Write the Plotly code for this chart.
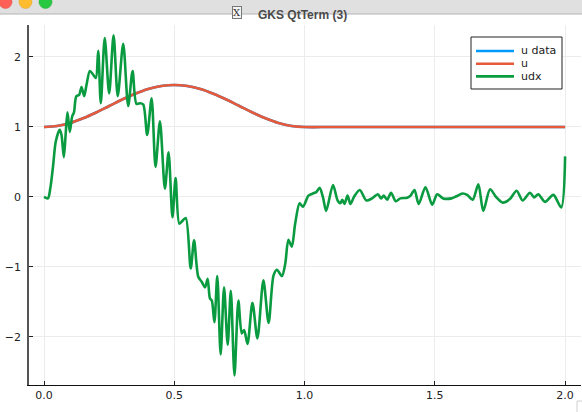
import plotly.graph_objects as go

# u and "u data" (they lie on top of each other)
u_x = [0.0, 0.05, 0.1, 0.15, 0.2, 0.25, 0.3, 0.35, 0.4, 0.45, 0.5,
       0.55, 0.6, 0.65, 0.7, 0.75, 0.8, 0.85, 0.9, 0.95, 1.0,
       1.1, 1.2, 1.3, 1.4, 1.5, 1.6, 1.7, 1.8, 1.9, 2.0]
u_data = [1.0, 1.015, 1.057, 1.124, 1.207, 1.3, 1.393, 1.476, 1.543, 1.585, 1.6,
          1.585, 1.543, 1.476, 1.393, 1.3, 1.207, 1.124, 1.057, 1.015, 1.0,
          1.0, 1.0, 1.0, 1.0, 1.0, 1.0, 1.0, 1.0, 1.0, 1.0]
u_pred = [1.0, 1.015, 1.057, 1.124, 1.207, 1.3, 1.393, 1.476, 1.543, 1.585, 1.6,
          1.585, 1.543, 1.476, 1.393, 1.3, 1.207, 1.124, 1.057, 1.015, 1.0,
          1.0, 1.0, 1.0, 1.0, 1.0, 1.0, 1.0, 1.0, 1.0, 1.0]

# udx
udx_x = [0.000, 0.015, 0.024, 0.035, 0.045, 0.060, 0.067, 0.076, 0.083, 0.090,
         0.099, 0.108, 0.115, 0.124, 0.135, 0.144, 0.154, 0.163, 0.176, 0.188,
         0.199, 0.208, 0.218, 0.233, 0.250, 0.267, 0.283, 0.304, 0.323, 0.340,
         0.355, 0.370, 0.381, 0.396, 0.413, 0.428, 0.445, 0.464, 0.478, 0.493,
         0.505, 0.519, 0.529, 0.544, 0.563, 0.576, 0.592, 0.605, 0.618, 0.628,
         0.637, 0.644, 0.654, 0.665, 0.678, 0.691, 0.705, 0.717, 0.731, 0.746,
         0.759, 0.768, 0.781, 0.800, 0.819, 0.842, 0.862, 0.881, 0.894, 0.913,
         0.926, 0.938, 0.951, 0.964, 0.981, 0.994, 1.015, 1.032, 1.045, 1.058,
         1.071, 1.083, 1.109, 1.127, 1.137, 1.145, 1.153, 1.165, 1.176, 1.191,
         1.212, 1.237, 1.259, 1.281, 1.294, 1.304, 1.317, 1.332, 1.350, 1.368,
         1.394, 1.407, 1.422, 1.438, 1.464, 1.490, 1.509, 1.532, 1.564, 1.583,
         1.606, 1.624, 1.645, 1.667, 1.686, 1.712, 1.735, 1.760, 1.788, 1.814,
         1.837, 1.865, 1.881, 1.897, 1.923, 1.955, 1.985, 2.000]
udx_y = [0.00, -0.02, 0.12, 0.45, 0.79, 0.96, 0.89, 0.57, 0.89, 1.21,
         0.93, 1.15, 1.21, 1.44, 1.46, 1.57, 1.44, 1.60, 1.80, 1.75,
         1.70, 2.09, 1.34, 2.27, 1.48, 2.31, 1.44, 2.19, 1.30, 1.80,
         1.33, 1.34, 1.32, 0.885, 1.41, 0.43, 1.08, 0.12, 0.64, -0.29,
         0.27, -0.38, -0.35, -0.30, -1.02, -0.62, -1.14, -1.21, -1.29, -1.17,
         -1.45, -1.48, -1.79, -1.13, -2.25, -1.29, -2.11, -1.34, -2.55, -1.48,
         -1.95, -1.90, -2.10, -1.51, -2.02, -1.19, -1.80, -1.12, -1.04, -1.13,
         -0.95, -0.61, -0.71, -0.38, -0.09, -0.14, 0.02, 0.05, 0.07, 0.13,
         -0.01, -0.20, 0.17, -0.05, -0.09, -0.04, -0.10, 0.02, -0.10, 0.01,
         0.10, -0.05, -0.02, 0.04, -0.02, 0.02, -0.04, 0.06, -0.06, -0.02,
         -0.01, 0.02, 0.10, -0.10, 0.14, -0.11, 0.04, -0.02, -0.02, 0.01,
         0.05, 0.03, -0.04, 0.18, -0.20, 0.11, 0.00, -0.08, -0.03, 0.09,
         -0.05, 0.06, -0.005, 0.04, -0.07, 0.03, -0.15, 0.58]

x_ticks = [0.0, 0.5, 1.0, 1.5, 2.0]
x_tick_text = ["0.0", "0.5", "1.0", "1.5", "2.0"]
y_ticks = [-2, -1, 0, 1, 2]

series_names = ["u data", "u", "udx"]
series_colors = ["#009AFA", "#E65A3B", "#0A9B40"]

W, H = 582, 412
L, R, T, B = 29, 1, 25, 27
PW, PH = W - L - R, H - T - B


def px(x):
    return (x - L) / PW


def py(y):
    return (H - B - y) / PH


fig = go.Figure()
fig.add_trace(go.Scatter(x=u_x, y=u_data, mode="lines", name=series_names[0],
                         line={"color": series_colors[0], "width": 2.6, "shape": "spline"}))
fig.add_trace(go.Scatter(x=u_x, y=u_pred, mode="lines", name=series_names[1],
                         line={"color": series_colors[1], "width": 2.6, "shape": "spline"}))
fig.add_trace(go.Scatter(x=udx_x, y=udx_y, mode="lines", name=series_names[2],
                         line={"color": series_colors[2], "width": 2.6, "shape": "spline", "smoothing": 0.8}))

axis_common = dict(showgrid=True, gridcolor="#ececec", gridwidth=1, zeroline=False,
                   ticks="inside", ticklen=4, tickcolor="#222", showline=True,
                   tickfont={"family": "DejaVu Sans", "size": 11, "color": "#222"})

shapes = [
    # window title bar
    dict(type="rect", xref="paper", yref="paper", x0=px(0), x1=px(W), y0=py(0), y1=py(14),
         fillcolor="#e0e0e0", line={"width": 0}, layer="above"),
    dict(type="line", xref="paper", yref="paper", x0=px(0), x1=px(W), y0=py(14), y1=py(14),
         line={"color": "#b4b4b4", "width": 1}, layer="above"),
    # resize grip
    dict(type="rect", xref="paper", yref="paper", x0=px(577), x1=px(583), y0=py(401), y1=py(413),
         fillcolor="#ffffff", line={"color": "#d0d0d0", "width": 1}, layer="above"),
    # legend box (GR-style compact legend)
    dict(type="rect", xref="paper", yref="paper", x0=px(471), x1=px(562), y0=py(37), y1=py(89),
         fillcolor="white", line={"color": "#222", "width": 1}, layer="above"),
]
for cx, color, edge in ((5.5, "#fe5f57", "#e0443e"), (25.5, "#febc2e", "#dea123"), (45.5, "#28c840", "#1aab29")):
    shapes.append(dict(type="circle", xref="paper", yref="paper",
                       x0=px(cx - 6.5), x1=px(cx + 6.5), y0=py(-4.5), y1=py(8.5),
                       fillcolor=color, line={"color": edge, "width": 0.5}, layer="above"))

annotations = [
    dict(text="<b>GKS QtTerm (3)</b>", xref="paper", yref="paper", x=px(302), y=py(6),
         showarrow=False, font={"family": "Liberation Sans", "size": 12, "color": "#4a4a4a"}),
    dict(text="X", xref="paper", yref="paper", x=px(237), y=py(6.5), showarrow=False,
         font={"family": "DejaVu Serif", "size": 10, "color": "#333"},
         bordercolor="#777", borderwidth=1, borderpad=0, bgcolor="#f4f4f4"),
]
for i, (name, color) in enumerate(zip(series_names, series_colors)):
    row_y = 51 + i * 12.7
    shapes.append(dict(type="line", xref="paper", yref="paper", x0=px(476), x1=px(514),
                       y0=py(row_y), y1=py(row_y), line={"color": color, "width": 2.6}, layer="above"))
    annotations.append(dict(text=name, xref="paper", yref="paper", x=px(519), y=py(row_y),
                            xanchor="left", yanchor="middle", showarrow=False,
                            font={"family": "DejaVu Sans", "size": 11, "color": "#222"}))

fig.update_layout(
    width=W, height=H,
    paper_bgcolor="white", plot_bgcolor="white",
    margin={"l": L, "r": R, "t": T, "b": B, "pad": 0},
    font={"family": "DejaVu Sans", "size": 11, "color": "#222"},
    xaxis=dict(axis_common, range=[-0.0576, 2.061], tickvals=x_ticks, ticktext=x_tick_text,
               linecolor="#111", linewidth=1.2),
    yaxis=dict(axis_common, range=[-2.686, 2.457], tickvals=y_ticks,
               linecolor="#555", linewidth=1.6, ticklabelstandoff=4),
    showlegend=False,
    shapes=shapes,
    annotations=annotations,
)

fig.write_html("out.html", config={"displayModeBar": False},
               post_script="document.body.style.margin='0';")
